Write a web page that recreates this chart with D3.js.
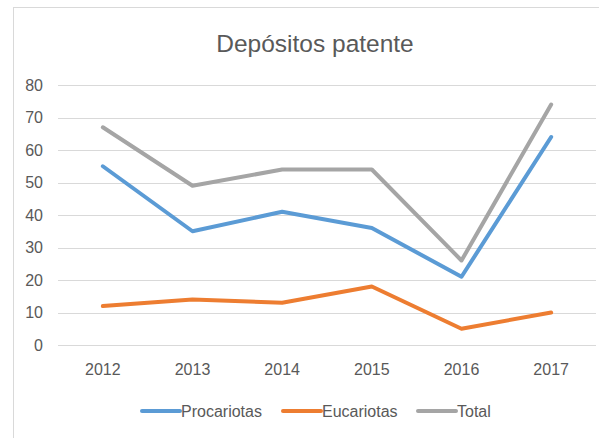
<!DOCTYPE html>
<html>
<head>
<meta charset="utf-8">
<script src="https://cdn.jsdelivr.net/npm/d3@7"></script>
<style>
  body { margin: 0; background: #fff; }
  text { font-family: "Liberation Sans", Arial, sans-serif; fill: #595959; }
</style>
</head>
<body>
<svg id="chart" width="599" height="438"></svg>
<script>
const years = ["2012", "2013", "2014", "2015", "2016", "2017"];
const procariotas = [55, 35, 41, 36, 21, 64];
const eucariotas = [12, 14, 13, 18, 5, 10];
const total = [67, 49, 54, 54, 26, 74];
const yTicks = [0, 10, 20, 30, 40, 50, 60, 70, 80];
const seriesNames = ["Procariotas", "Eucariotas", "Total"];
const colors = ["#5b9bd5", "#ed7d31", "#a5a5a5"];

var svg = d3.select("#chart");

// chart border
svg.append("rect")
    .attr("x", 13.5)
    .attr("y", 7.5)
    .attr("width", 600)
    .attr("height", 440)
    .attr("fill", "none")
    .attr("stroke", "#d9d9d9");

svg.append("text")
    .attr("x", 315)
    .attr("y", 52)
    .style("text-anchor", "middle")
    .style("font-size", "24.5px")
    .text("Depósitos patente");

let x = d3.scalePoint().domain(years).range([58, 596]).padding(0.5);
let y = d3.scaleLinear().domain([0, 80]).range([345, 85]);

// grid lines
yTicks.forEach(t =>
    svg.append("line")
        .attr("x1", 58)
        .attr("x2", 596)
        .attr("y1", Math.round(y(t)) + 0.5)
        .attr("y2", Math.round(y(t)) + 0.5)
        .attr("stroke", "#d9d9d9")
        .attr("stroke-width", 1.2)
);

// y tick labels
yTicks.forEach(t =>
    svg.append("text")
        .attr("x", 43)
        .attr("y", y(t) + 5.5)
        .style("text-anchor", "end")
        .style("font-size", "16px")
        .text(t)
);

// x tick labels
years.forEach(yr =>
    svg.append("text")
        .attr("x", x(yr))
        .attr("y", 375)
        .style("text-anchor", "middle")
        .style("font-size", "16px")
        .text(yr)
);

let line = d3.line()
    .x((d, i) => x(years[i]))
    .y(d => y(d));

[procariotas, eucariotas, total].forEach((vals, i) => {
    svg.append("path")
        .datum(vals)
        .attr("d", line)
        .attr("fill", "none")
        .attr("stroke", colors[i])
        .attr("stroke-width", 4)
        .attr("stroke-linejoin", "round")
        .attr("stroke-linecap", "round");
});

// legend
var legendX = [142, 283, 418];
seriesNames.forEach((name, i) => {
    svg.append("line")
        .attr("x1", legendX[i])
        .attr("x2", legendX[i] + 38)
        .attr("y1", 411)
        .attr("y2", 411)
        .attr("stroke", colors[i])
        .attr("stroke-width", 4)
        .attr("stroke-linecap", "round");
    svg.append("text")
        .attr("x", legendX[i] + 39)
        .attr("y", 417)
        .style("font-size", "16px")
        .text(name);
});
</script>
</body>
</html>
